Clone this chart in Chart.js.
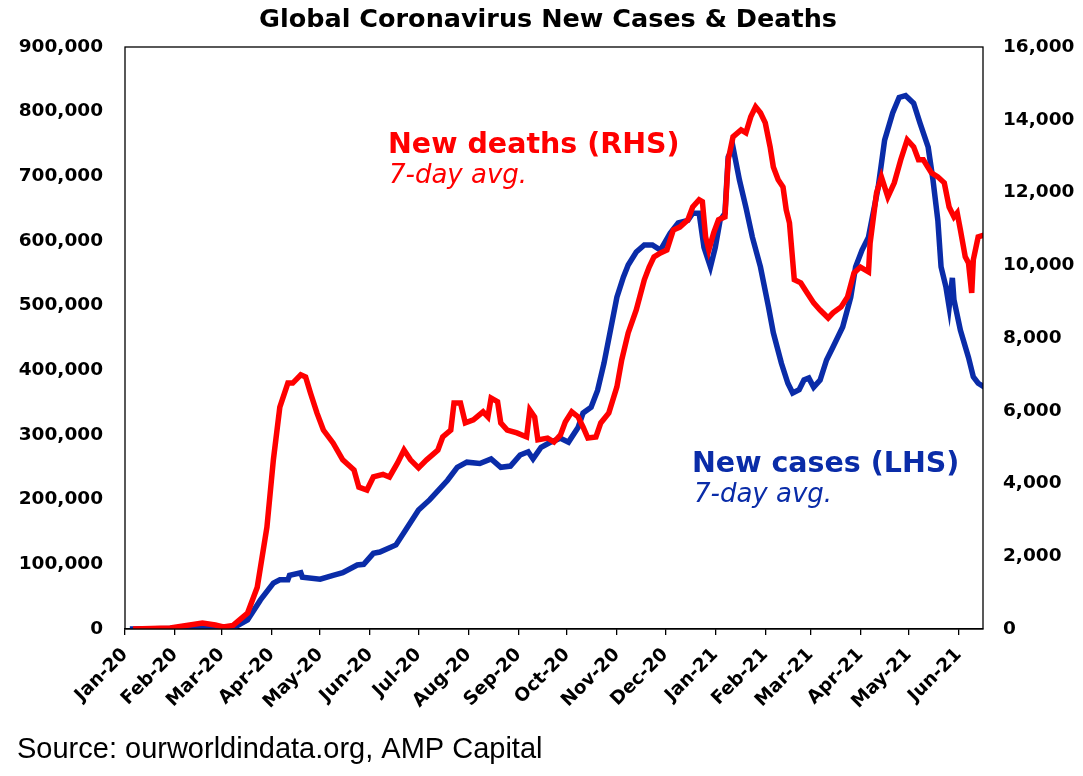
<!DOCTYPE html>
<html lang="en">
<head>
<meta charset="UTF-8">
<script src="https://cdn.jsdelivr.net/npm/chart.js"></script>
<title>Global Coronavirus New Cases & Deaths</title>
<style>
  body { margin: 0; background: #fff; }
  .box { position: relative; width: 1083px; height: 776px; }
</style>
</head>
<body>
<div class="box"><canvas id="grafico"></canvas></div>
<script>
// days counted from 1 Jan 2020
var monthDays = [0, 31, 60, 91, 121, 152, 182, 213, 244, 274, 305, 335, 366, 397, 425, 456, 486, 517];
var monthLabels = ['Jan-20', 'Feb-20', 'Mar-20', 'Apr-20', 'May-20', 'Jun-20', 'Jul-20', 'Aug-20', 'Sep-20',
  'Oct-20', 'Nov-20', 'Dec-20', 'Jan-21', 'Feb-21', 'Mar-21', 'Apr-21', 'May-21', 'Jun-21'];

// new deaths, 7-day avg (RHS)
var deathDays = [5, 28, 48, 56, 61, 67, 76, 82, 88, 92, 96, 101, 104, 109, 112, 115, 119, 123, 129, 135,
  142, 145, 150, 154, 160, 164, 169, 173, 177, 182, 187, 194, 197, 202, 204, 208, 211, 216, 222, 225,
  227, 231, 233, 237, 243, 249, 251, 254, 256, 262, 266, 270, 273, 277, 281, 284, 287, 292, 295, 300,
  305, 308, 312, 317, 322, 325, 328, 332, 336, 340, 344, 349, 352, 356, 358, 360, 362, 365, 368, 372,
  374, 377, 382, 385, 388, 391, 394, 397, 400, 402, 405, 408, 410, 412, 415, 419, 423, 427, 431, 436,
  439, 444, 448, 452, 456, 461, 462, 466, 469, 473, 477, 481, 485, 489, 492, 495, 500, 504, 508, 511,
  514, 516, 518, 521, 523, 525, 526, 529, 533];
var deaths = [0, 30, 165, 110, 55, 100, 440, 1150, 2800, 4650, 6100, 6760, 6760, 6990, 6930, 6490, 5940, 5470, 5115, 4650,
  4370, 3900, 3820, 4180, 4250, 4180, 4565, 4920, 4650, 4430, 4650, 4920, 5280, 5470, 6215, 6215, 5665, 5750, 5970, 5830,
  6350, 6250, 5665, 5470, 5390, 5280, 6020, 5830, 5200, 5250, 5140, 5335, 5690, 5970, 5830, 5555, 5250, 5280, 5665, 5940,
  6655, 7400, 8140, 8770, 9600, 9950, 10230, 10340, 10420, 10970, 11050, 11250, 11600, 11800, 11750, 10780, 10420, 10890, 11250, 11330,
  12900, 13530, 13720, 13640, 14080, 14355, 14190, 13915, 13255, 12700, 12350, 12150, 11520, 11165, 9600, 9515, 9240, 8965, 8770, 8550,
  8690, 8855, 9130, 9790, 9950, 9820, 10610, 11990, 12430, 11880, 12265, 12900, 13450, 13255, 12900, 12900, 12540, 12430, 12265, 11600,
  11330, 11440, 10970, 10230, 10065, 9240, 10150, 10780, 10835];

// new cases, 7-day avg (LHS)
var caseDays = [3, 47, 56, 67, 76, 84, 92, 96, 101, 102, 109, 110, 121, 129, 135, 144, 148, 154, 158, 168,
  174, 182, 189, 200, 206, 212, 220, 227, 233, 239, 245, 250, 253, 258, 264, 270, 275, 281, 284, 289,
  293, 297, 301, 305, 309, 312, 317, 322, 327, 332, 338, 343, 349, 352, 356, 359, 363, 366, 369, 372,
  374, 377, 381, 385, 389, 394, 399, 402, 407, 411, 414, 418, 421, 424, 427, 431, 435, 439, 445, 450,
  453, 457, 461, 467, 471, 476, 480, 484, 489, 493, 498, 501, 504, 506, 509, 511, 513, 514, 518, 523,
  526, 529, 533];
var cases = [0, 1000, 2000, 1500, 14000, 45000, 71000, 76000, 76000, 83000, 87000, 80000, 77000, 83000, 87000, 99000, 100000, 117000, 119000, 130000,
  153000, 184000, 200000, 230000, 250000, 258000, 256000, 263000, 250000, 252000, 269000, 274000, 263000, 281000, 289000, 295000, 289000, 312000, 334000, 343000,
  369000, 411000, 462000, 513000, 544000, 563000, 583000, 594000, 594000, 586000, 612000, 628000, 632000, 643000, 643000, 590000, 560000, 590000, 632000, 643000,
  730000, 745000, 694000, 652000, 606000, 560000, 498000, 458000, 411000, 380000, 365000, 370000, 385000, 388000, 374000, 385000, 416000, 436000, 467000, 513000,
  560000, 586000, 606000, 683000, 756000, 798000, 822000, 825000, 813000, 782000, 745000, 694000, 632000, 560000, 529000, 498000, 543000, 509000, 462000, 420000,
  390000, 380000, 374000];

var corVermelho = '#ff0000';
var corAzul = '#0a2ca8';
var fonteNum = 'DejaVu Sans';

function pontos(dias, valores) {
  var lista = [];
  for (var i = 0; i < dias.length; i++) {
    lista.push({ x: dias[i], y: valores[i] });
  }
  return lista;
}

// title, frame, annotations and source line
var textos = {
  id: 'textos',
  afterDraw: function (chart) {
    var ctx = chart.ctx;
    var area = chart.chartArea;
    ctx.save();
    ctx.strokeStyle = '#000';
    ctx.lineWidth = 1.3;
    ctx.strokeRect(area.left, area.top, area.right - area.left, area.bottom - area.top);

    ctx.textBaseline = 'alphabetic';
    ctx.textAlign = 'center';
    ctx.fillStyle = '#000';
    ctx.font = 'bold 25.5px "DejaVu Sans"';
    ctx.fillText('Global Coronavirus New Cases & Deaths', 548, 27);

    ctx.textAlign = 'left';
    ctx.fillStyle = corVermelho;
    ctx.font = 'bold 28.5px "DejaVu Sans"';
    ctx.fillText('New deaths (RHS)', 388, 153);
    ctx.font = 'oblique 26px "DejaVu Sans"';
    ctx.fillText('7-day avg.', 389, 183);

    ctx.fillStyle = corAzul;
    ctx.font = 'bold 28.5px "DejaVu Sans"';
    ctx.fillText('New cases (LHS)', 692, 472);
    ctx.font = 'oblique 26px "DejaVu Sans"';
    ctx.fillText('7-day avg.', 694, 502);

    ctx.fillStyle = '#000';
    ctx.font = '29px "Liberation Sans", Arial';
    ctx.fillText('Source: ourworldindata.org, AMP Capital', 17, 758);
    ctx.restore();
  }
};

new Chart(document.getElementById('grafico'), {
  type: 'line',
  data: {
    datasets: [{
      label: 'New deaths (RHS)',
      data: pontos(deathDays, deaths),
      yAxisID: 'y1',
      borderColor: corVermelho,
      borderWidth: 5.5,
      pointRadius: 0,
      tension: 0,
      fill: false
    }, {
      label: 'New cases (LHS)',
      data: pontos(caseDays, cases),
      yAxisID: 'y',
      borderColor: corAzul,
      borderWidth: 5.5,
      pointRadius: 0,
      tension: 0,
      fill: false
    }]
  },
  options: {
    responsive: true,
    maintainAspectRatio: false,
    animation: false,
    layout: { padding: { top: 47, left: 0, right: 0, bottom: 0 } },
    plugins: {
      legend: { display: false },
      tooltip: { enabled: false },
      title: { display: false }
    },
    scales: {
      x: {
        type: 'linear',
        min: 0,
        max: 532,
        afterBuildTicks: function (scale) {
          scale.ticks = monthDays.map(function (d) { return { value: d }; });
        },
        afterFit: function (scale) { scale.height = 147; },
        grid: { drawOnChartArea: false, drawTicks: true, tickLength: 6, color: '#000', lineWidth: 1.3 },
        border: { display: true, color: '#000', width: 1.3 },
        ticks: {
          autoSkip: false,
          minRotation: 45,
          maxRotation: 45,
          padding: 9,
          color: '#000',
          font: { family: fonteNum, size: 18.5, weight: 'bold' },
          callback: function (v) {
            var i = monthDays.indexOf(v);
            return i >= 0 ? monthLabels[i] : '';
          }
        }
      },
      y: {
        position: 'left',
        min: 0,
        max: 900000,
        afterFit: function (scale) { scale.width = 125; },
        grid: { display: false, drawTicks: false },
        border: { display: false },
        ticks: {
          stepSize: 100000,
          padding: 22,
          color: '#000',
          font: { family: fonteNum, size: 18.5, weight: 'bold' },
          callback: function (v) { return v.toLocaleString('en-US'); }
        }
      },
      y1: {
        position: 'right',
        min: 0,
        max: 16000,
        afterFit: function (scale) { scale.width = 100; },
        grid: { display: false, drawTicks: false },
        border: { display: false },
        ticks: {
          stepSize: 2000,
          padding: 20,
          color: '#000',
          font: { family: fonteNum, size: 18.5, weight: 'bold' },
          callback: function (v) { return v.toLocaleString('en-US'); }
        }
      }
    }
  },
  plugins: [textos]
});
</script>
</body>
</html>
